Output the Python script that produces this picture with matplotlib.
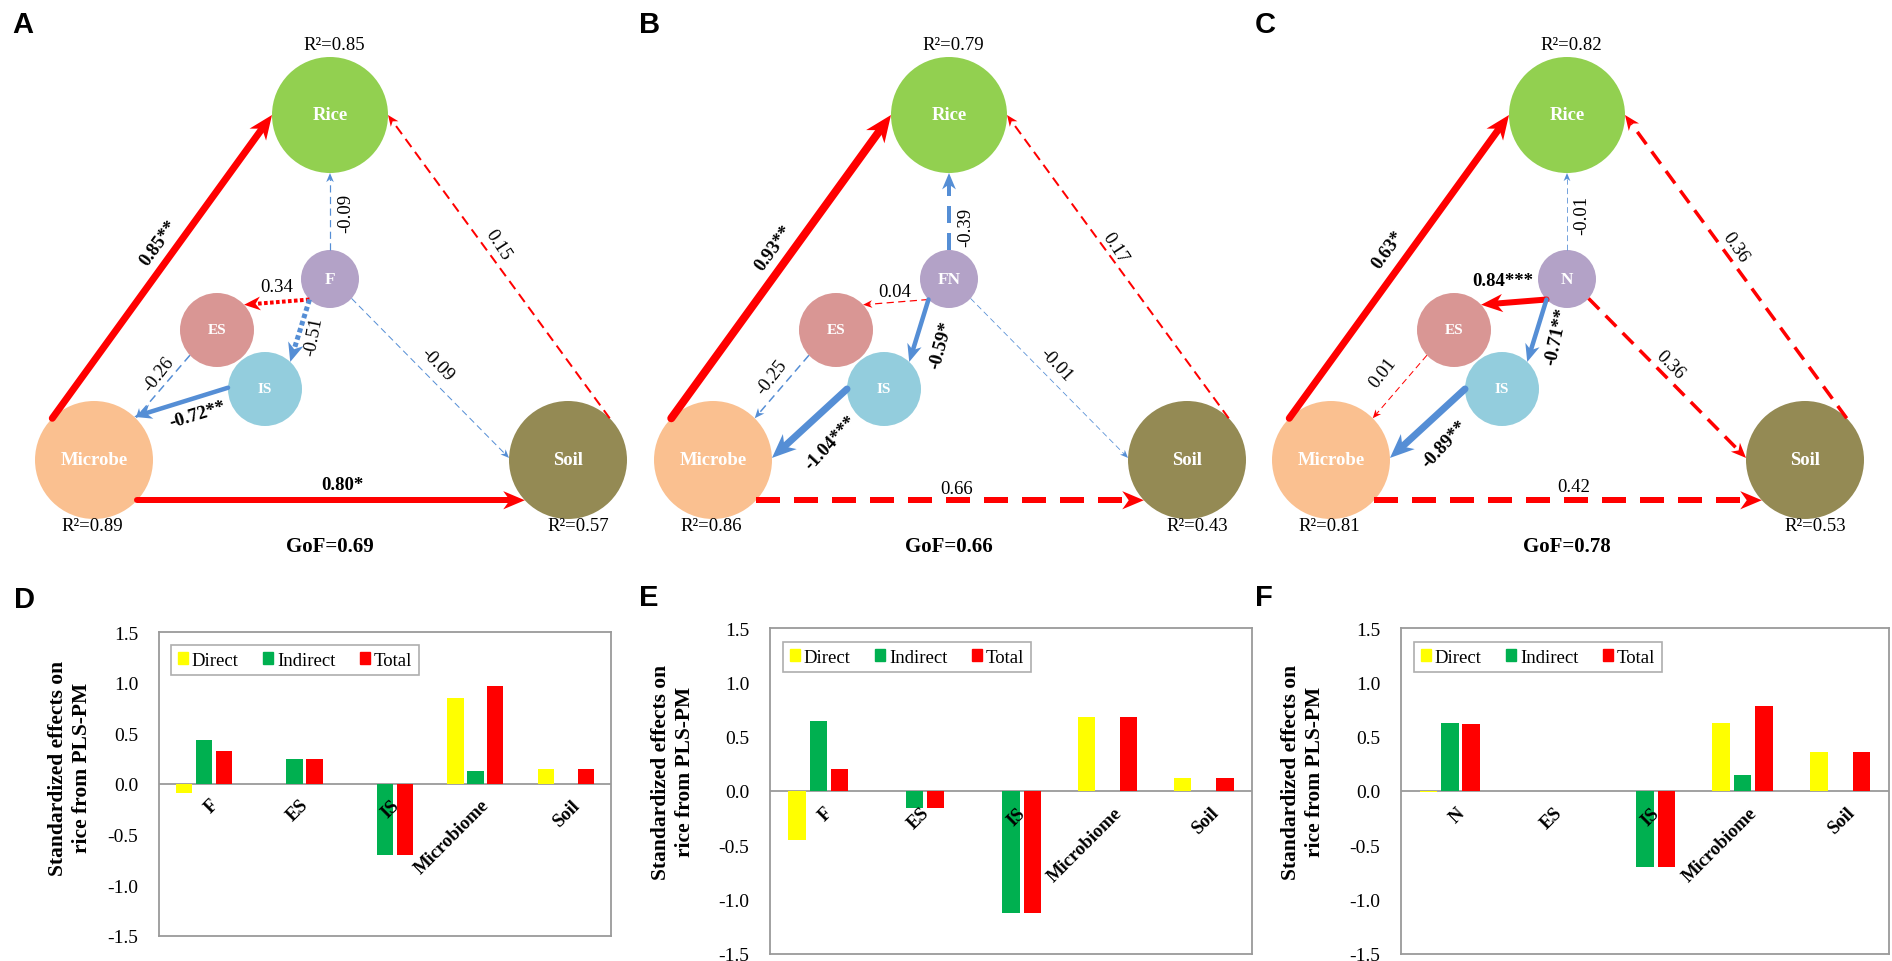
import numpy as np
import matplotlib
matplotlib.use('Agg')
import matplotlib.pyplot as plt
from matplotlib.patches import Circle, Polygon, Patch

plt.rcParams['lines.scale_dashes'] = False
SERIF = 'Liberation Serif'
SANS = 'Liberation Sans'

# ---- path model data (PLS-PM) ----
center_var = ['F', 'FN', 'N']
edges = [('Microbe', 'Rice'), ('Microbe', 'Soil'), ('Soil', 'Rice'), ('X', 'Rice'), ('X', 'ES'),
         ('X', 'IS'), ('X', 'Soil'), ('ES', 'Microbe'), ('IS', 'Microbe')]
coef_A = [0.85, 0.80, 0.15, -0.09, 0.34, -0.51, -0.09, -0.26, -0.72]
sig_A = ['**', '*', '', '', '', '', '', '', '**']
coef_B = [0.93, 0.66, 0.17, -0.39, 0.04, -0.59, -0.01, -0.25, -1.04]
sig_B = ['**', '', '', '', '', '*', '', '', '***']
coef_C = [0.63, 0.42, 0.36, -0.01, 0.84, -0.71, 0.36, 0.01, -0.89]
sig_C = ['*', '', '', '', '***', '**', '', '', '**']
r2_rice = [0.85, 0.79, 0.82]
r2_microbe = [0.89, 0.86, 0.81]
r2_soil = [0.57, 0.43, 0.53]
gof = [0.69, 0.66, 0.78]

# ---- effects bar data ----
cats_D = ['F', 'ES', 'IS', 'Microbiome', 'Soil']
direct_D = [-0.09, 0, 0, 0.85, 0.15]
indirect_D = [0.43, 0.25, -0.70, 0.13, 0]
total_D = [0.33, 0.25, -0.70, 0.97, 0.15]

cats_E = ['F', 'ES', 'IS', 'Microbiome', 'Soil']
direct_E = [-0.45, 0, 0, 0.68, 0.12]
indirect_E = [0.64, -0.16, -1.12, 0, 0]
total_E = [0.20, -0.16, -1.12, 0.68, 0.12]

cats_F = ['N', 'ES', 'IS', 'Microbiome', 'Soil']
direct_F = [-0.01, 0, 0, 0.63, 0.36]
indirect_F = [0.63, 0, -0.70, 0.15, 0]
total_F = [0.62, 0, -0.70, 0.78, 0.36]

# ---- layout (pixels) ----
W, H = 1892, 962
node_pos = {'Rice': (330, 116, 58), 'X': (330, 280, 29), 'ES': (217, 331, 37),
            'IS': (265, 390, 37), 'Microbe': (94, 461, 59), 'Soil': (568, 461, 59)}
node_col = {'Rice': '#92D050', 'X': '#B3A2C7', 'ES': '#D99694', 'IS': '#93CDDD',
            'Microbe': '#FAC090', 'Soil': '#948A54'}
panel_dx = [0, 619, 1237]
anchors = [[(135, 180), (-43, 223), (45, 0), (90, 270), (225, 43), (225, 47), (318, 178), (223, 45), (178, 47)],
           [(135, 180), (-43, 223), (45, 0), (90, 270), (225, 43), (225, 47), (318, 178), (223, 45), (180, 2)],
           [(135, 180), (-43, 223), (45, 0), (90, 270), (225, 43), (225, 47), (318, 178), (223, 45), (180, 2)]]
widths = [[7, 6, 2, 1.2, 4, 5, 1, 1.5, 4.5],
          [8, 6, 2, 4, 1.2, 4.5, 0.8, 1.5, 7],
          [7, 6, 3.5, 0.8, 6, 4.5, 3.5, 1, 7]]
styles = [['solid', 'solid', 'dashed', 'dashed', 'dotted', 'dotted', 'dashed', 'dashed', 'solid'],
          ['solid', 'dashed', 'dashed', 'dashed', 'dashed', 'solid', 'dashed', 'dashed', 'solid'],
          ['solid', 'dashed', 'dashed', 'dashed', 'solid', 'solid', 'dashed', 'dashed', 'solid']]
label_pos = [[(159, 243, 54), (342, 486, 0), (498, 245, -57), (346, 213, 90), (277, 288, 0),
              (314, 337, 79), (437, 365, -46), (159, 375, 52), (198, 415, 17)],
             [(774, 248, 54), (957, 490, 0), (1115, 248, -57), (966, 227, 90), (895, 293, 0),
              (941, 345, 75), (1056, 365, -47), (772, 378, 52), (831, 443, 47)],
             [(1388, 250, 54), (1574, 488, 0), (1735, 248, -55), (1582, 215, 90), (1503, 282, 0),
              (1557, 337, 78), (1670, 365, -45), (1383, 373, 52), (1445, 445, 47)]]
RED, BLUE = '#FF0000', '#558ED5'

fig = plt.figure(figsize=(W / 100, H / 100), dpi=100)
ax0 = fig.add_axes([0, 0, 1, 1])
ax0.set_xlim(0, W)
ax0.set_ylim(H, 0)
ax0.axis('off')


def draw_arrow(p0, p1, color, lw, ls):
    x0, y0 = p0
    x1, y1 = p1
    L = np.hypot(x1 - x0, y1 - y0)
    ux, uy = (x1 - x0) / L, (y1 - y0) / L
    px, py = -uy, ux
    hl = 2.6 * lw + 6
    hw = 2.2 * lw + 5
    bx, by = x1 - ux * hl, y1 - uy * hl
    nx, ny = x1 - ux * hl * 0.7, y1 - uy * hl * 0.7
    kw = dict(color=color, lw=lw * 0.72, zorder=3, solid_capstyle='round', dash_capstyle='butt')
    if ls == 'dashed':
        kw['dashes'] = ((3.5 * lw + 3) * 0.72, (2 * lw + 2) * 0.72)
    elif ls == 'dotted':
        kw['dashes'] = (lw * 0.9 * 0.72, lw * 0.6 * 0.72)
    ax0.plot([x0, nx], [y0, ny], **kw)
    ax0.add_patch(Polygon([(x1, y1), (bx + px * hw / 2, by + py * hw / 2), (nx, ny),
                           (bx - px * hw / 2, by - py * hw / 2)], closed=True,
                          facecolor=color, edgecolor='none', zorder=3))


coefs = [coef_A, coef_B, coef_C]
sigs = [sig_A, sig_B, sig_C]
for p in range(3):
    dx = panel_dx[p]
    for name, (x, y, r) in node_pos.items():
        ax0.add_patch(Circle((x + dx, y), r, facecolor=node_col[name], edgecolor='none', zorder=2))
        txt = center_var[p] if name == 'X' else name
        fs = 11 if name in ('ES', 'IS') else (12.5 if name == 'X' else 13.5)
        ax0.text(x + dx, y, txt, color='white', fontsize=fs, fontweight='bold', family=SERIF,
                 ha='center', va='center', zorder=4)
    for k, (src, dst) in enumerate(edges):
        sx, sy, sr = node_pos[src]
        tx, ty, tr = node_pos[dst]
        a0, a1 = np.radians(anchors[p][k][0]), np.radians(anchors[p][k][1])
        p0 = (sx + dx + sr * np.cos(a0), sy - sr * np.sin(a0))
        p1 = (tx + dx + tr * np.cos(a1), ty - tr * np.sin(a1))
        c = coefs[p][k]
        draw_arrow(p0, p1, RED if c > 0 else BLUE, widths[p][k], styles[p][k])
        lx, ly, rot = label_pos[p][k]
        ax0.text(lx, ly, f'{c:.2f}{sigs[p][k]}', fontsize=13.5, family=SERIF,
                 fontweight='bold' if sigs[p][k] else 'normal', rotation=rot,
                 ha='center', va='center', rotation_mode='anchor', zorder=5)
    rx, ry, rr = node_pos['Rice']
    ax0.text(rx + dx + 4, 45, f'R²={r2_rice[p]:.2f}', fontsize=13.5, family=SERIF,
             ha='center', va='center')
    mx, my, mr = node_pos['Microbe']
    ax0.text(mx + dx - 2, 527, f'R²={r2_microbe[p]:.2f}', fontsize=13.5, family=SERIF,
             ha='center', va='center')
    ox, oy, orr = node_pos['Soil']
    ax0.text(ox + dx + 10, 527, f'R²={r2_soil[p]:.2f}', fontsize=13.5, family=SERIF,
             ha='center', va='center')
    ax0.text(rx + dx, 547, f'GoF={gof[p]:.2f}', fontsize=15, family=SERIF, fontweight='bold',
             ha='center', va='center')

for letter, (x, y) in zip('ABCDEF', [(23, 25), (650, 25), (1265, 25), (24, 600), (649, 598), (1264, 598)]):
    ax0.text(x, y, letter, fontsize=21, fontweight='bold', family=SANS, ha='center', va='center')

# ---- bar panels ----
bar_boxes = [(159, 611, 633, 937), (770, 1252, 629, 955), (1401, 1889, 629, 955)]
ylab_x = [70, 673, 1303]
ylab_y = [768, 772, 772]
bar_sets = [(cats_D, direct_D, indirect_D, total_D),
            (cats_E, direct_E, indirect_E, total_E),
            (cats_F, direct_F, indirect_F, total_F)]
GRAY = '#9A9A9A'
for (l, r, t, b), (cats, d, ind, tot), yx, yy in zip(bar_boxes, bar_sets, ylab_x, ylab_y):
    ax = fig.add_axes([l / W, (H - b) / H, (r - l) / W, (b - t) / H])
    x = np.arange(len(cats))
    ax.bar(x - 0.22, d, 0.18, color='#FFFF00', label='Direct', zorder=2)
    ax.bar(x, ind, 0.18, color='#00B050', label='Indirect', zorder=2)
    ax.bar(x + 0.22, tot, 0.18, color='#FF0000', label='Total', zorder=2)
    ax.axhline(0, color=GRAY, lw=1.3, zorder=1)
    ax.set_xlim(-0.5, len(cats) - 0.5)
    ax.set_ylim(-1.5, 1.5)
    yt = [-1.5, -1.0, -0.5, 0.0, 0.5, 1.0, 1.5]
    ax.set_yticks(yt)
    ax.set_yticklabels([f'{v:.1f}' for v in yt], family=SERIF, fontsize=14)
    ax.tick_params(axis='y', length=0, pad=15)
    ax.set_xticks([])
    for s in ax.spines.values():
        s.set_color(GRAY)
        s.set_linewidth(1.3)
    for i, c in enumerate(cats):
        ax.text(i + 0.06, -0.12, c, rotation=45, ha='right', va='top', rotation_mode='anchor',
                fontsize=13.5, fontweight='bold', family=SERIF, zorder=5)
    handles = [Patch(color='#FFFF00'), Patch(color='#00B050'), Patch(color='#FF0000')]
    leg = ax.legend(handles, ['Direct', 'Indirect', 'Total'], ncol=3, loc='upper left',
                    bbox_to_anchor=(0.027, 0.957), borderaxespad=0, fancybox=False,
                    prop={'family': SERIF, 'size': 13.5}, handlelength=0.55, handleheight=0.55,
                    handletextpad=0.2, columnspacing=1.3, borderpad=0.35)
    leg.get_frame().set_edgecolor(GRAY)
    leg.get_frame().set_linewidth(1.2)
    fig.text(yx / W, 1 - yy / H, 'Standardized effects on\nrice from PLS-PM', rotation=90,
             ha='center', va='center', fontsize=15.5, fontweight='bold', family=SERIF,
             linespacing=1.25, multialignment='center')

fig.savefig('out.png', dpi=100)
